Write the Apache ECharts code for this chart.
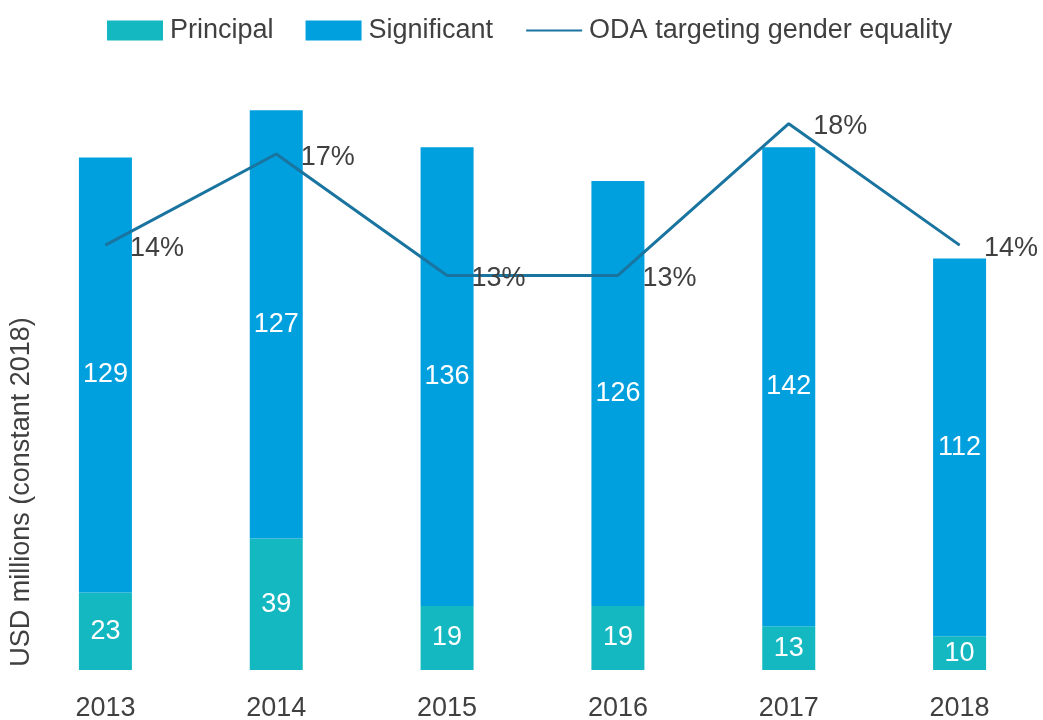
<!DOCTYPE html>
<html>
<head>
<meta charset="utf-8">
<script src="https://cdn.jsdelivr.net/npm/echarts@6/dist/echarts.min.js"></script>
<style>
  html, body { margin: 0; padding: 0; background: #fff; }
  #chart { width: 1043px; height: 720px; }
</style>
</head>
<body>
<div id="chart"></div>
<script>
// data
var years = ['2013', '2014', '2015', '2016', '2017', '2018'];
var principal = [23, 39, 19, 19, 13, 10];
var significant = [129, 127, 136, 126, 142, 112];
var odaShare = [14, 17, 13, 13, 18, 14]; // percent

var textColor = '#404040';
var fontFamily = '"Liberation Sans", Arial, sans-serif';

var chart = echarts.init(document.getElementById('chart'));

var option = {
    color: ['#14b8c0', '#009fde', '#1a74a0'],
    textStyle: { fontFamily: fontFamily },
    legend: {
        top: 12,
        left: 102,
        itemWidth: 56,
        itemHeight: 20,
        itemGap: 32,
        textStyle: { fontSize: 27, color: textColor, padding: [0, 0, 0, 2] },
        data: [
            { name: 'Principal', icon: 'rect' },
            { name: 'Significant', icon: 'rect' },
            { name: 'ODA targeting gender equality', itemStyle: { opacity: 0 } }
        ]
    },
    grid: {
        left: 20,
        top: 63,
        width: 1025,
        height: 607,
        containLabel: false,
        outerBoundsMode: 'none'
    },
    xAxis: {
        type: 'category',
        data: years,
        axisLine: { show: false },
        axisTick: { show: false },
        axisLabel: { fontSize: 27, color: textColor, margin: 25 }
    },
    yAxis: [
        { type: 'value', min: 0, max: 180, show: false, splitLine: { show: false } },
        { type: 'value', min: 0, max: 20, show: false, splitLine: { show: false } }
    ],
    graphic: [{
        type: 'text',
        x: 22,
        y: 492,
        rotation: Math.PI / 2,
        style: {
            text: 'USD millions (constant 2018)',
            fontSize: 27,
            fontFamily: fontFamily,
            fill: textColor,
            align: 'center',
            verticalAlign: 'middle'
        }
    }],
    series: [
        {
            name: 'Principal',
            type: 'bar',
            stack: 'oda',
            barWidth: 53,
            data: principal,
            label: { show: true, position: 'inside', color: '#fff', fontSize: 27 }
        },
        {
            name: 'Significant',
            type: 'bar',
            stack: 'oda',
            barWidth: 53,
            data: significant,
            label: { show: true, position: 'inside', color: '#fff', fontSize: 27 }
        },
        {
            name: 'ODA targeting gender equality',
            type: 'line',
            yAxisIndex: 1,
            z: 5,
            symbol: 'circle',
            symbolSize: 1,
            showSymbol: true,
            lineStyle: { width: 3, color: '#1a74a0' },
            data: odaShare,
            label: {
                show: true,
                position: 'right',
                distance: 24,
                offset: [0, 3],
                formatter: '{c}%',
                fontSize: 27,
                color: textColor
            }
        }
    ]
};

option && chart.setOption(option);
</script>
</body>
</html>
